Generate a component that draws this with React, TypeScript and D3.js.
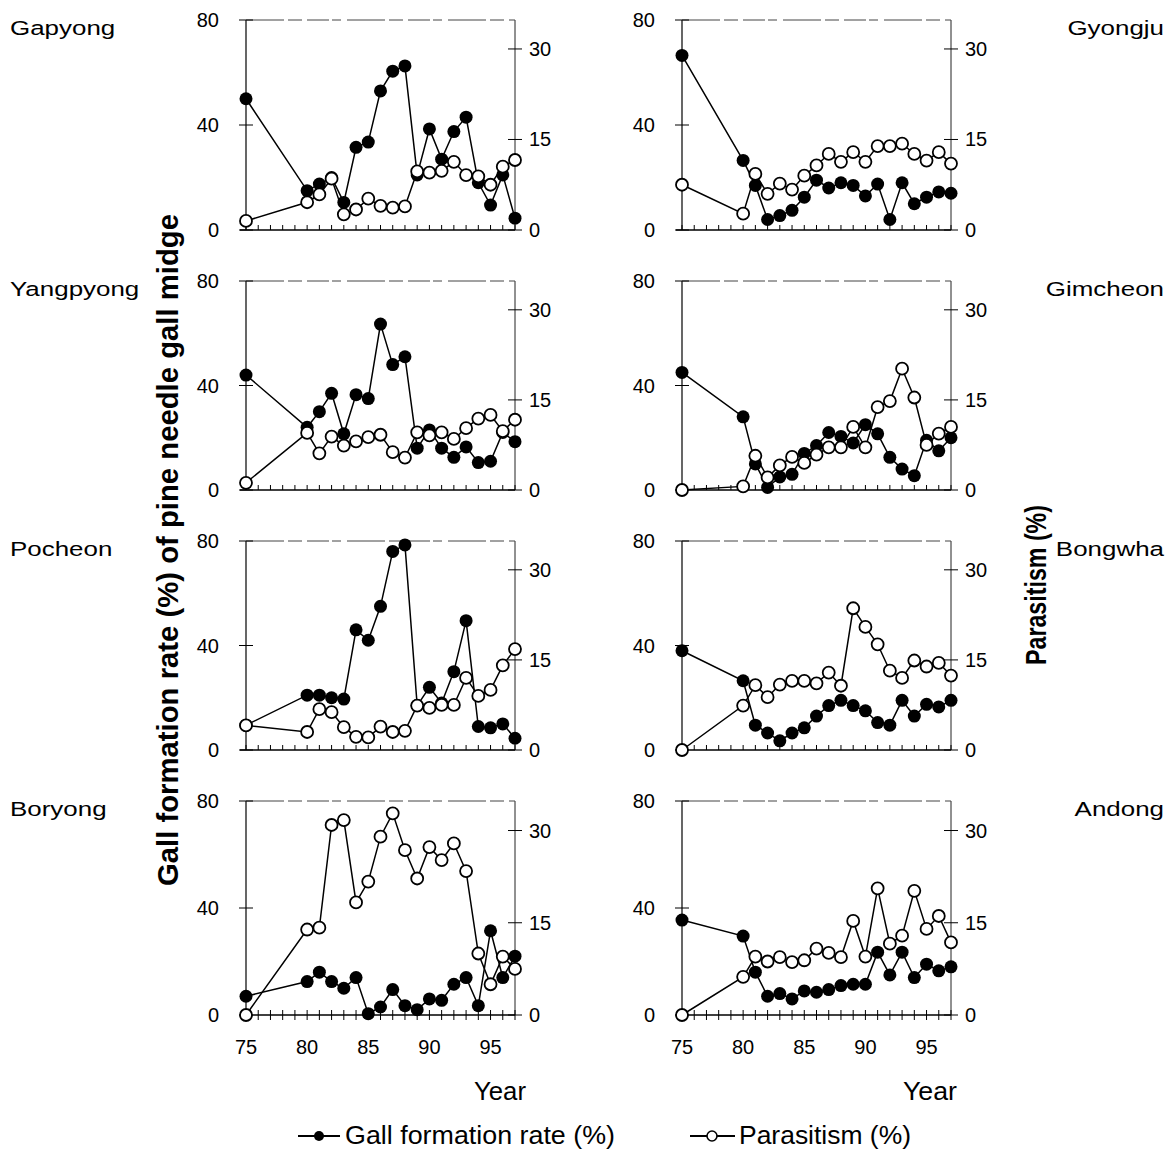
import React from "react";
import * as d3 from "d3";

// survey years (1975, then 1980-1997)
const years = [75, 80, 81, 82, 83, 84, 85, 86, 87, 88, 89, 90, 91, 92, 93, 94, 95, 96, 97];
const xTicks = [75, 80, 85, 90, 95];
const leftTicks = [0, 40, 80];
const rightTicks = [0, 15, 30];

// gall formation rate (%) and parasitism (%) per site
const gapyongGall = [50, 15, 17.5, 20, 10.5, 31.5, 33.5, 53, 60.5, 62.5, 21, 38.5, 27, 37.5, 43, 18, 9.5, 21, 4.5];
const gapyongPara = [1.5, 4.6, 5.9, 8.5, 2.6, 3.4, 5.2, 4.0, 3.7, 3.9, 9.7, 9.5, 9.8, 11.3, 9.1, 8.9, 7.5, 10.5, 11.6];
const gyongjuGall = [66.5, 26.5, 17, 4, 5.5, 7.5, 12.5, 19, 16, 18, 17, 13, 17.5, 4, 18, 10, 12.5, 14.5, 14];
const gyongjuPara = [7.5, 2.7, 9.3, 6.0, 7.7, 6.7, 9.0, 10.7, 12.6, 11.3, 12.9, 11.3, 13.9, 13.9, 14.3, 12.6, 11.5, 12.9, 11.0];
const yangpyongGall = [44, 24, 30, 37, 21.5, 36.5, 35, 63.5, 48, 51, 16, 23, 16, 12.5, 16.5, 10.5, 11, 22, 18.5];
const yangpyongPara = [1.2, 9.5, 6.1, 8.9, 7.4, 8.1, 8.8, 9.2, 6.3, 5.4, 9.6, 9.1, 9.6, 8.5, 10.3, 11.9, 12.5, 9.8, 11.7];
const gimcheonGall = [45, 28, 10, 1, 5, 6, 14, 17, 22, 20.5, 18, 25, 21.5, 12.5, 8, 5.5, 19, 15, 20];
const gimcheonPara = [0, 0.6, 5.7, 2.1, 4.1, 5.5, 4.5, 5.9, 7.1, 7.1, 10.5, 7.1, 13.8, 14.8, 20.2, 15.4, 7.5, 9.4, 10.5];
const pocheonGall = [9.5, 21, 21, 20, 19.5, 46, 42, 55, 76, 78.5, 17, 24, 18, 30, 49.5, 9, 8.5, 10, 4.5];
const pocheonPara = [4.1, 3, 6.8, 6.3, 3.8, 2.2, 2.1, 3.9, 3, 3.2, 7.4, 7, 7.5, 7.5, 12, 9, 10, 14.1, 16.8];
const bongwhaGall = [38, 26.5, 9.5, 6.5, 3.5, 6.5, 8.5, 13, 17, 19, 17, 15, 10.5, 9.5, 19, 13, 17.5, 16.5, 19];
const bongwhaPara = [0, 7.4, 10.8, 8.8, 10.9, 11.5, 11.5, 11.1, 12.9, 10.7, 23.6, 20.5, 17.6, 13.2, 12, 14.9, 13.9, 14.5, 12.4];
const boryongGall = [7, 12.5, 16, 12.5, 10, 14, 0.5, 3, 9.5, 3.5, 2, 6, 5.5, 11.5, 14, 3.5, 31.5, 14, 22];
const boryongPara = [0, 13.9, 14.2, 30.9, 31.7, 18.3, 21.7, 29, 32.8, 26.8, 22.2, 27.3, 25.2, 27.9, 23.4, 10, 5, 9.5, 7.5];
const andongGall = [35.5, 29.5, 16, 7, 8, 6, 9, 8.5, 9.5, 11, 11.5, 11.5, 23.5, 15, 23.5, 14, 19, 16.5, 18];
const andongPara = [0, 6.2, 9.5, 8.7, 9.4, 8.6, 8.9, 10.8, 10.1, 9.4, 15.3, 9.5, 20.6, 11.6, 12.9, 20.2, 14, 16.1, 11.8];

const sites = [
  { name: "Gapyong", gall: gapyongGall, para: gapyongPara, col: 0, row: 0 },
  { name: "Gyongju", gall: gyongjuGall, para: gyongjuPara, col: 1, row: 0 },
  { name: "Yangpyong", gall: yangpyongGall, para: yangpyongPara, col: 0, row: 1 },
  { name: "Gimcheon", gall: gimcheonGall, para: gimcheonPara, col: 1, row: 1 },
  { name: "Pocheon", gall: pocheonGall, para: pocheonPara, col: 0, row: 2 },
  { name: "Bongwha", gall: bongwhaGall, para: bongwhaPara, col: 1, row: 2 },
  { name: "Boryong", gall: boryongGall, para: boryongPara, col: 0, row: 3 },
  { name: "Andong", gall: andongGall, para: andongPara, col: 1, row: 3 },
];

const cols = [
  { x0: 246, x1: 515 },
  { x0: 682, x1: 951 },
];
const rows = [
  { top: 20, bottom: 230 },
  { top: 281, bottom: 490 },
  { top: 541, bottom: 750 },
  { top: 801, bottom: 1015 },
];

const font = "'Liberation Sans', Arial, sans-serif";
const allYears = d3.range(75, 98);

function Panel({ site }) {
  const { x0, x1 } = cols[site.col];
  const { top, bottom } = rows[site.row];
  const isBottom = site.row === 3;

  const x = d3.scaleLinear().domain([75, 97]).range([x0, x1]);
  const yL = d3.scaleLinear().domain([0, 80]).range([bottom, top]);
  // right axis: 30 % sits well below the panel top
  const yR = d3.scaleLinear().domain([0, 34.8]).range([bottom, top]);

  const gallLine = d3.line<number>().x((d, i) => x(years[i])).y((d) => yL(d));
  const paraLine = d3.line<number>().x((d, i) => x(years[i])).y((d) => yR(d));

  return (
    <g>
      {/* frame */}
      <line x1={x0} x2={x0} y1={top} y2={bottom} stroke="#000" strokeWidth={1.2} />
      <line x1={x1} x2={x1} y1={top} y2={bottom} stroke="#222" strokeWidth={1} />
      <line x1={x0 - 6} x2={x1} y1={bottom} y2={bottom} stroke="#000" strokeWidth={1.3} />
      <line x1={x0} x2={x1} y1={top} y2={top} stroke="#444" strokeWidth={1} strokeDasharray="38 4 14 5 22 3 9 6" />

      {/* x minor ticks */}
      {allYears.map((yr) => (
        <line key={yr} x1={x(yr)} x2={x(yr)} y1={bottom - 5} y2={isBottom ? bottom + 5 : bottom} stroke="#000" strokeWidth={1} />
      ))}
      {isBottom &&
        xTicks.map((t) => (
          <text key={t} x={x(t)} y={bottom + 39} textAnchor="middle" fontSize={20} fontFamily={font}>
            {t}
          </text>
        ))}

      {/* left axis */}
      {leftTicks.map((t) => (
        <g key={t}>
          <line x1={x0 - 7} x2={x0 + 7} y1={yL(t)} y2={yL(t)} stroke="#000" strokeWidth={1} />
          <text x={x0 - 27} y={yL(t)} dy="0.35em" textAnchor="end" fontSize={20} fontFamily={font}>
            {t}
          </text>
        </g>
      ))}

      {/* right axis */}
      {rightTicks.map((t) => (
        <g key={t}>
          <line x1={x1 - 7} x2={x1 + 7} y1={yR(t)} y2={yR(t)} stroke="#000" strokeWidth={1} />
          <text x={x1 + 14} y={yR(t)} dy="0.35em" textAnchor="start" fontSize={20} fontFamily={font}>
            {t}
          </text>
        </g>
      ))}

      <path d={gallLine(site.gall)} fill="none" stroke="#000" strokeWidth={1.5} />
      <path d={paraLine(site.para)} fill="none" stroke="#000" strokeWidth={1.5} />
      {site.gall.map((v, i) => (
        <circle key={"g" + i} cx={x(years[i])} cy={yL(v)} r={6.5} fill="#000" />
      ))}
      {site.para.map((v, i) => (
        <circle key={"p" + i} cx={x(years[i])} cy={yR(v)} r={6} fill="#fff" stroke="#000" strokeWidth={1.8} />
      ))}

      {/* site name */}
      <text
        transform={site.col === 0 ? `translate(10,${top + 15}) scale(1.33,1)` : `translate(1164,${top + 15}) scale(1.33,1)`}
        textAnchor={site.col === 0 ? "start" : "end"}
        fontSize={19.5}
        fontFamily={font}
      >
        {site.name}
      </text>
    </g>
  );
}

export default function App() {
  return (
    <svg
      width={1171}
      height={1149}
      viewBox="0 0 1171 1149"
      style={{ position: "absolute", left: 0, top: 0, background: "#fff" }}
    >
      <rect width={1171} height={1149} fill="#fff" />
      {sites.map((s) => (
        <Panel key={s.name} site={s} />
      ))}

      <text
        transform="translate(178,550) rotate(-90)"
        textAnchor="middle"
        fontSize={29}
        fontWeight="bold"
        fontFamily={font}
        textLength={672}
        lengthAdjust="spacingAndGlyphs"
      >
        Gall formation rate (%) of pine needle gall midge
      </text>
      <text
        transform="translate(1046,585) rotate(-90)"
        textAnchor="middle"
        fontSize={29}
        fontWeight="bold"
        fontFamily={font}
        textLength={160}
        lengthAdjust="spacingAndGlyphs"
      >
        Parasitism (%)
      </text>

      <text x={500} y={1100} textAnchor="middle" fontSize={26} fontFamily={font} textLength={52} lengthAdjust="spacingAndGlyphs">
        Year
      </text>
      <text x={930} y={1100} textAnchor="middle" fontSize={26} fontFamily={font} textLength={54} lengthAdjust="spacingAndGlyphs">
        Year
      </text>

      {/* legend */}
      <line x1={298} x2={340} y1={1136} y2={1136} stroke="#000" strokeWidth={2} />
      <circle cx={319} cy={1136} r={5} fill="#000" />
      <text x={345} y={1144} fontSize={25} fontFamily={font} textLength={270} lengthAdjust="spacingAndGlyphs">
        Gall formation rate (%)
      </text>
      <line x1={690} x2={735} y1={1136} y2={1136} stroke="#000" strokeWidth={2} />
      <circle cx={712} cy={1136} r={5} fill="#fff" stroke="#000" strokeWidth={1.6} />
      <text x={739} y={1144} fontSize={25} fontFamily={font} textLength={172} lengthAdjust="spacingAndGlyphs">
        Parasitism (%)
      </text>
    </svg>
  );
}
